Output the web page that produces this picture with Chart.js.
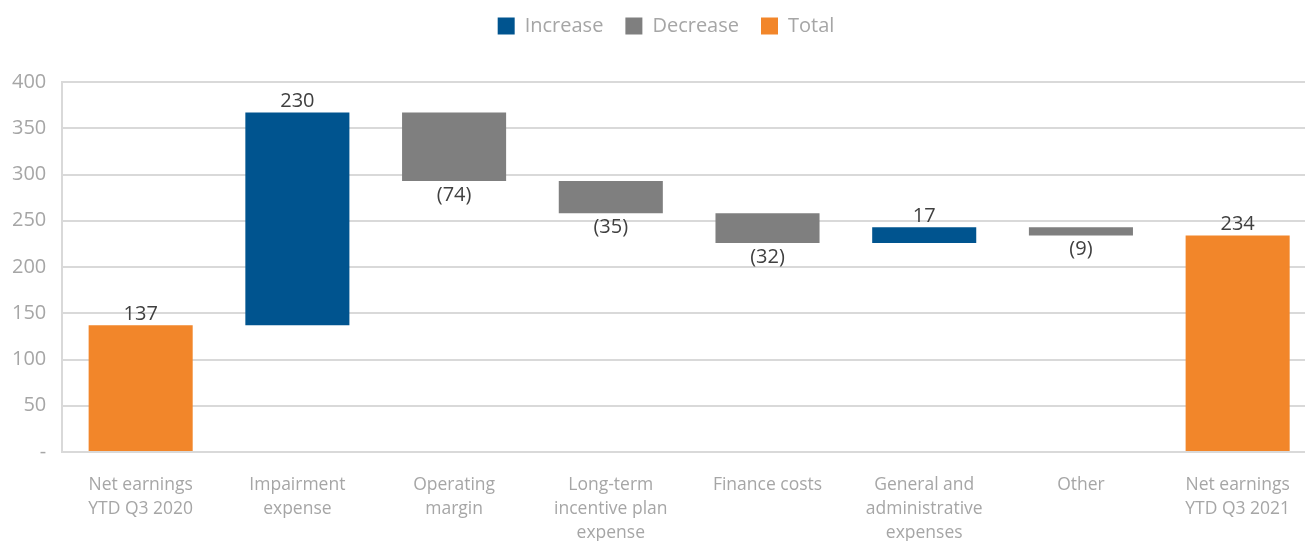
<!DOCTYPE html>
<html>
<head>
<meta charset="utf-8">
<script src="https://cdn.jsdelivr.net/npm/chart.js@4.4.0/dist/chart.umd.min.js"></script>
<style>
    html, body { margin: 0; padding: 0; background: #fff; overflow: hidden; }
    #wrap { position: absolute; left: 0; top: 0; width: 1316px; height: 541px; }
</style>
</head>
<body>
<div id="wrap"><canvas id="chart"></canvas></div>
<script>
// Waterfall data (net earnings bridge)
const categories = [
    ['Net earnings', 'YTD Q3 2020'],
    ['Impairment', 'expense'],
    ['Operating', 'margin'],
    ['Long-term', 'incentive plan', 'expense'],
    'Finance costs',
    ['General and', 'administrative', 'expenses'],
    'Other',
    ['Net earnings', 'YTD Q3 2021']
];
const increaseValues = [null, 230, null, null, null, 17, null, null];
const decreaseValues = [null, null, -74, -35, -32, null, -9, null];
const totalValues = [137, null, null, null, null, null, null, 234];
const yTicks = [0, 50, 100, 150, 200, 250, 300, 350, 400];

const colors = {
    increase: '#00548f',
    decrease: '#7f7f7f',
    total: '#f2862a'
};

// build floating ranges from the running total
let running = 0;
const incBars = [], decBars = [], totBars = [];
categories.forEach((c, i) => {
    if (totalValues[i] !== null) {
        totBars.push([0, totalValues[i]]);
        running = totalValues[i];
    } else {
        totBars.push(null);
    }
    if (increaseValues[i] !== null) {
        incBars.push([running, running + increaseValues[i]]);
        running += increaseValues[i];
    } else {
        incBars.push(null);
    }
    if (decreaseValues[i] !== null) {
        decBars.push([running + decreaseValues[i], running]);
        running += decreaseValues[i];
    } else {
        decBars.push(null);
    }
});

const rawValues = [increaseValues, decreaseValues, totalValues];

const valueLabels = {
    id: 'valueLabels',
    afterDatasetsDraw(chart) {
        const ctx = chart.ctx;
        ctx.save();
        ctx.font = '20px "Open Sans", sans-serif';
        ctx.fillStyle = '#404040';
        ctx.textAlign = 'center';
        chart.data.datasets.forEach((ds, di) => {
            const meta = chart.getDatasetMeta(di);
            meta.data.forEach((el, i) => {
                const v = rawValues[di][i];
                if (v === null || v === undefined) return;
                const top = Math.min(el.y, el.base);
                const bottom = Math.max(el.y, el.base);
                if (v < 0) {
                    ctx.textBaseline = 'top';
                    ctx.fillText('(' + Math.abs(v) + ')', el.x, bottom + 4);
                } else {
                    ctx.textBaseline = 'bottom';
                    ctx.fillText(String(v), el.x, top - 1);
                }
            });
        });
        ctx.restore();
    }
};

// leave a fixed gap between legend and plot, nudge legend right a bit
const legendSpace = {
    id: 'legendSpace',
    beforeInit(chart) {
        const fit = chart.legend.fit;
        chart.legend.fit = function () {
            fit.call(this);
            this.height = 88;
        };
    },
    afterLayout(chart) {
        chart.legend.left += 10;
        chart.legend.right += 10;
    }
};

new Chart(document.getElementById('chart'), {
    type: 'bar',
    data: {
        labels: categories,
        datasets: [
            { label: 'Increase', data: incBars, backgroundColor: colors.increase },
            { label: 'Decrease', data: decBars, backgroundColor: colors.decrease },
            { label: 'Total', data: totBars, backgroundColor: colors.total }
        ]
    },
    options: {
        responsive: true,
        maintainAspectRatio: false,
        animation: false,
        barPercentage: 0.664,
        categoryPercentage: 1,
        layout: { padding: { left: -4, right: 0, top: -6, bottom: -17 } },
        plugins: {
            legend: {
                position: 'top',
                labels: {
                    boxWidth: 17,
                    boxHeight: 17,
                    padding: 22,
                    color: '#a6a6a6',
                    font: { family: '"Open Sans", sans-serif', size: 20 }
                }
            },
            tooltip: { enabled: false }
        },
        scales: {
            x: {
                stacked: true,
                grid: { display: false },
                border: { display: false },
                ticks: {
                    color: '#a6a6a6',
                    maxRotation: 0,
                    padding: 13,
                    font: { family: '"Open Sans", sans-serif', size: 17.5, lineHeight: '24px' }
                }
            },
            y: {
                min: 0,
                max: 400,
                afterBuildTicks(axis) {
                    axis.ticks = yTicks.map(v => ({ value: v }));
                },
                grid: { color: '#d9d9d9', lineWidth: 2, drawTicks: false },
                border: { display: true, color: '#d9d9d9', width: 2 },
                ticks: {
                    color: '#a6a6a6',
                    padding: 16,
                    font: { family: '"Open Sans", sans-serif', size: 20 },
                    callback: v => v === 0 ? '-' : v
                }
            }
        }
    },
    plugins: [valueLabels, legendSpace]
});
</script>
</body>
</html>
